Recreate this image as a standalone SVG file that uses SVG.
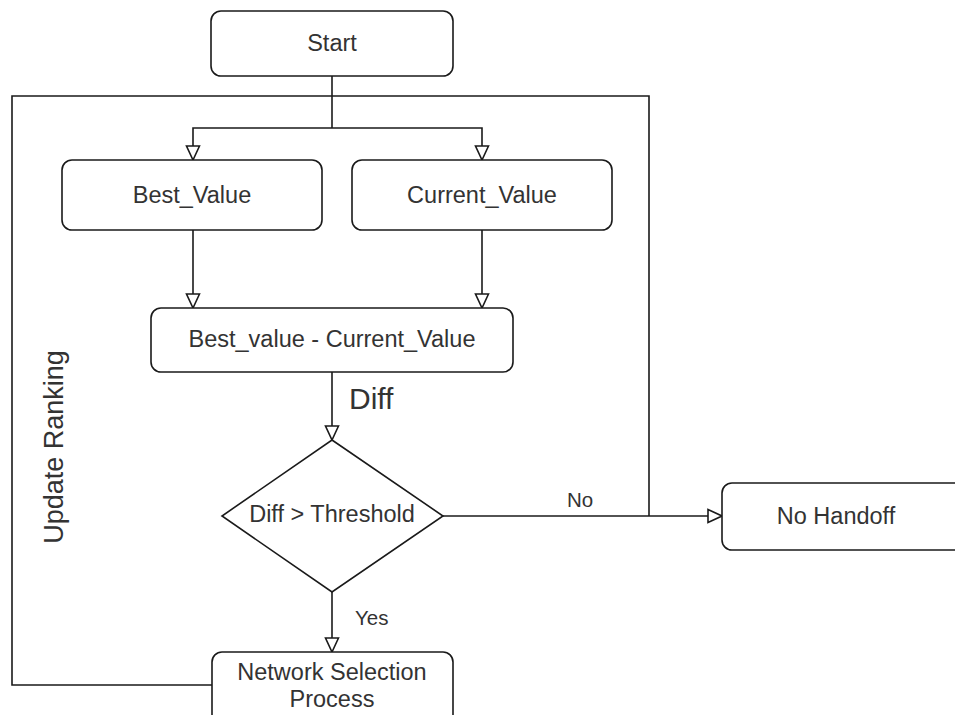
<svg xmlns="http://www.w3.org/2000/svg" width="955" height="715" viewBox="0 0 955 715">
  <style>
    .box { fill: #ffffff; stroke: #1a1a1a; stroke-width: 1.6; }
    .lbl { font-family: "Liberation Sans", Arial, sans-serif; font-size: 23.5px; fill: #333333; text-anchor: middle; dominant-baseline: central; }
    .edge { fill: none; stroke: #1a1a1a; stroke-width: 1.6; }
    .elbl { font-family: "Liberation Sans", Arial, sans-serif; font-size: 20.5px; fill: #333333; dominant-baseline: central; }
  </style>
  <defs>
    <marker id="open" viewBox="0 0 16 16" refX="15" refY="8" markerWidth="16" markerHeight="16" markerUnits="userSpaceOnUse" orient="auto">
      <path d="M1,1.5 L15,8 L1,14.5 Z" fill="#ffffff" stroke="#1a1a1a" stroke-width="1.6"/>
    </marker>
  </defs>
  <rect width="955" height="715" fill="#ffffff"/>

  <g id="connectors">
    <!-- feedback loop from network selection back to the top -->
    <path class="edge" d="M212,685 H12 V96 H649 V516"/>
    <!-- start splits into both values -->
    <path class="edge" d="M332,76 V128"/>
    <path class="edge" d="M332,128 H193 V160" marker-end="url(#open)"/>
    <path class="edge" d="M332,128 H482 V160" marker-end="url(#open)"/>
    <!-- values into the difference -->
    <path class="edge" d="M193,230 V308" marker-end="url(#open)"/>
    <path class="edge" d="M482,230 V308" marker-end="url(#open)"/>
    <!-- difference into the decision -->
    <path class="edge" d="M332,372 V440" marker-end="url(#open)"/>
    <text x="349" y="398" font-family="Liberation Sans, Arial, sans-serif" font-size="30" fill="#333333" dominant-baseline="central">Diff</text>
    <!-- no branch -->
    <path class="edge" d="M443,516 H722" marker-end="url(#open)"/>
    <text class="elbl" x="567" y="499">No</text>
    <!-- yes branch -->
    <path class="edge" d="M332,592 V652" marker-end="url(#open)"/>
    <text class="elbl" x="355" y="617">Yes</text>
  </g>

  <text x="54" y="447" transform="rotate(-90 54 447)" font-family="Liberation Sans, Arial, sans-serif" font-size="27" fill="#333333" text-anchor="middle" dominant-baseline="central">Update Ranking</text>

  <g id="start">
    <rect class="box" x="211" y="11" width="242" height="65" rx="10"/>
    <text class="lbl" x="332" y="43">Start</text>
  </g>
  <g id="best-value">
    <rect class="box" x="62" y="160" width="260" height="70" rx="10"/>
    <text class="lbl" x="192" y="195">Best_Value</text>
  </g>
  <g id="current-value">
    <rect class="box" x="352" y="160" width="260" height="70" rx="10"/>
    <text class="lbl" x="482" y="195">Current_Value</text>
  </g>
  <g id="difference">
    <rect class="box" x="151" y="308" width="362" height="64" rx="10"/>
    <text class="lbl" x="332" y="339">Best_value - Current_Value</text>
  </g>
  <g id="threshold">
    <polygon class="box" points="332,440 443,516 332,592 222,516"/>
    <text class="lbl" x="332" y="514">Diff &gt; Threshold</text>
  </g>
  <g id="no-handoff">
    <rect class="box" x="722" y="483" width="245" height="67" rx="10"/>
    <text class="lbl" x="836" y="516">No Handoff</text>
  </g>
  <g id="network-selection">
    <rect class="box" x="212" y="652" width="241" height="80" rx="10"/>
    <text class="lbl" x="332" y="672">Network Selection</text>
    <text class="lbl" x="332" y="699">Process</text>
  </g>
</svg>
